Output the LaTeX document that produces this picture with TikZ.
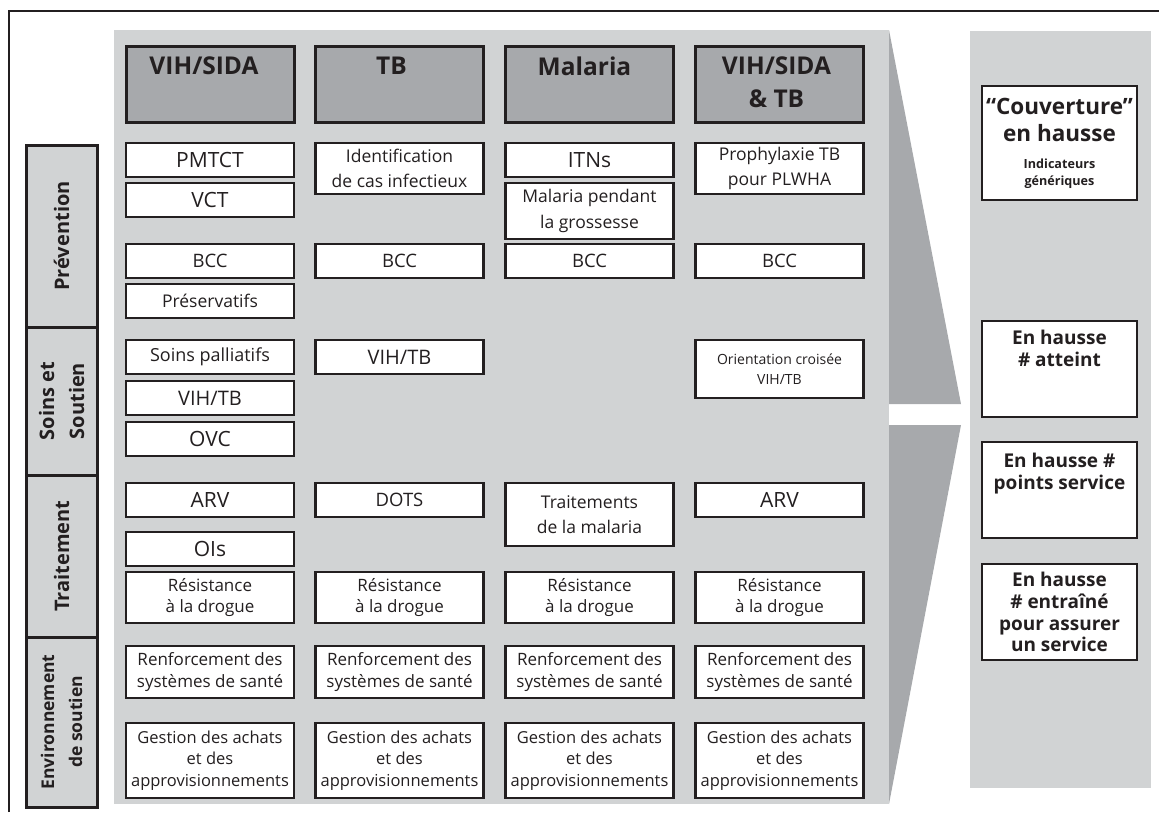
\documentclass[tikz,border=0pt]{standalone}
\usepackage{fontspec}
\setmainfont{Open Sans}
\usetikzlibrary{positioning}
\definecolor{panelgray}{RGB}{209,211,212}
\definecolor{hdrgray}{RGB}{167,169,172}
\definecolor{ink}{RGB}{35,31,32}
\begin{document}
\begin{tikzpicture}[x=1pt, y=-1pt, every node/.style={inner sep=1pt, text=ink},
  cellbox/.style={draw=ink, line width=2.7pt, fill=white, minimum width=168pt, align=center, font=\fontsize{18}{22}\selectfont},
  cellcaps/.style={cellbox, font=\fontsize{21}{24}\selectfont},
  celltwo/.style={cellbox, font=\fontsize{17.5}{25.5}\selectfont},
  cellmid/.style={cellbox, font=\fontsize{17}{21.5}\selectfont},
  cellsmall/.style={cellbox, font=\fontsize{18.5}{21}\selectfont},
  hdr/.style={draw=ink, line width=3pt, fill=hdrgray, minimum width=168pt, minimum height=76pt},
  hdrtxt/.style={inner sep=0pt, align=center, font=\bfseries\fontsize{24.5}{33}\selectfont},
  side/.style={draw=ink, line width=3pt, fill=panelgray, rotate=90, minimum height=71pt, align=center, font=\bfseries\fontsize{20}{30}\selectfont},
  res/.style={draw=ink, line width=2.7pt, fill=white, minimum width=155pt, minimum height=96pt},
  restxt/.style={inner sep=0pt, align=center, font=\bfseries\fontsize{19}{21.8}\selectfont}]
  \useasboundingbox (0,0) rectangle (1159,812);
  % frame and panels
  \draw[ink, line width=2.2pt] (9,812) -- (9,11) -- (1159,11);
  \fill[panelgray] (114,30) rectangle (889,804);
  \fill[hdrgray] (889,30) -- (961,404) -- (889,404) -- cycle;
  \fill[hdrgray] (889,425) -- (961,425) -- (889,804) -- cycle;
  \fill[panelgray] (970,31) rectangle (1151,788);
  % side labels
  \node[side, minimum width=182pt] (prev) at (61.5,236) {Prévention};
  \node[side, minimum width=148pt] (soins) at (61.5,401) {Soins et\\Soutien};
  \node[side, minimum width=162pt] (trait) at (61.5,556) {Traitement};
  \node[side, minimum width=170pt, font=\bfseries\fontsize{17.5}{28}\selectfont] (env) at (61.5,722) {Environnement\\de soutien};
  % headers
  \node[hdr] (hHIV) at (210,84) {};
  \node[hdrtxt, below=12pt of hHIV.north, xshift=-6pt] (tHIV) {VIH/SIDA};
  \node[hdr] (hTB) at (399.5,84) {};
  \node[hdrtxt, below=12pt of hTB.north, xshift=-8pt] (tTB) {TB};
  \node[hdr] (hMal) at (589.5,84) {};
  \node[hdrtxt, below=12pt of hMal.north, xshift=-5pt] (tMal) {Malaria};
  \node[hdr] (hBoth) at (779.5,84) {};
  \node[hdrtxt, below=12pt of hBoth.north, xshift=-3pt] (tBoth) {VIH/SIDA\\\& TB};
  % prevention
  \node[cellcaps, minimum height=34pt] (pmtct) at (210,160) {PMTCT};
  \node[cellcaps, minimum height=34pt] (vct) at (210,200) {VCT};
  \node[celltwo, minimum height=51pt] (ident) at (399.5,168.5) {Identification\\de cas infectieux};
  \node[cellcaps, minimum height=34pt] (itn) at (589.5,160) {ITNs};
  \node[celltwo, minimum height=56pt] (preg) at (589.5,211) {Malaria pendant\\la grossesse};
  \node[celltwo, minimum height=51pt] (proph) at (779.5,168.5) {Prophylaxie TB\\pour PLWHA};
  \node[cellsmall, minimum height=34pt] (bcc1) at (210,261) {BCC};
  \node[cellsmall, minimum height=34pt] (bcc2) at (399.5,261) {BCC};
  \node[cellsmall, minimum height=34pt] (bcc3) at (589.5,261) {BCC};
  \node[cellsmall, minimum height=34pt] (bcc4) at (779.5,261) {BCC};
  \node[cellbox, minimum height=34pt, font=\fontsize{17.5}{20}\selectfont] (cond) at (210,301) {Préservatifs};
  % care and support
  \node[cellbox, minimum height=34pt] (pall) at (210,357) {Soins palliatifs};
  \node[cellbox, minimum height=34pt, font=\fontsize{20}{24}\selectfont] (hivtb1) at (210,398) {VIH/TB};
  \node[cellcaps, minimum height=34pt] (ovc) at (210,439) {OVC};
  \node[cellbox, minimum height=34pt, font=\fontsize{20}{24}\selectfont] (hivtb2) at (399.5,357) {VIH/TB};
  \node[cellbox, minimum height=58pt, font=\fontsize{14}{20}\selectfont] (cross) at (779.5,369) {Orientation croisée\\VIH/TB};
  % treatment
  \node[cellcaps, minimum height=34pt] (arv1) at (210,500) {ARV};
  \node[cellcaps, minimum height=34pt] (ois) at (210,549) {OIs};
  \node[cellsmall, minimum height=34pt] (dots) at (399.5,500) {DOTS};
  \node[celltwo, minimum height=63pt] (mtreat) at (589.5,514.5) {Traitements\\de la malaria};
  \node[cellcaps, minimum height=34pt] (arv4) at (779.5,500) {ARV};
  \node[cellmid, minimum height=51pt] (res1) at (210,597.5) {Résistance\\à la drogue};
  \node[cellmid, minimum height=51pt] (res2) at (399.5,597.5) {Résistance\\à la drogue};
  \node[cellmid, minimum height=51pt] (res3) at (589.5,597.5) {Résistance\\à la drogue};
  \node[cellmid, minimum height=51pt] (res4) at (779.5,597.5) {Résistance\\à la drogue};
  % enabling environment
  \node[cellmid, minimum height=52pt] (hss1) at (210,672) {Renforcement des\\systèmes de santé};
  \node[cellmid, minimum height=52pt] (hss2) at (399.5,672) {Renforcement des\\systèmes de santé};
  \node[cellmid, minimum height=52pt] (hss3) at (589.5,672) {Renforcement des\\systèmes de santé};
  \node[cellmid, minimum height=52pt] (hss4) at (779.5,672) {Renforcement des\\systèmes de santé};
  \node[cellmid, minimum height=75pt, font=\fontsize{16.5}{21.5}\selectfont] (psm1) at (210,760.5) {Gestion des achats\\et des\\approvisionnements};
  \node[cellmid, minimum height=75pt, font=\fontsize{16.5}{21.5}\selectfont] (psm2) at (399.5,760.5) {Gestion des achats\\et des\\approvisionnements};
  \node[cellmid, minimum height=75pt, font=\fontsize{16.5}{21.5}\selectfont] (psm3) at (589.5,760.5) {Gestion des achats\\et des\\approvisionnements};
  \node[cellmid, minimum height=75pt, font=\fontsize{16.5}{21.5}\selectfont] (psm4) at (779.5,760.5) {Gestion des achats\\et des\\approvisionnements};
  % results column
  \node[res, minimum height=114pt, align=center, font=\bfseries\fontsize{22.5}{27}\selectfont] (cov) at (1059.5,143)
    {“Couverture”\\en hausse\\{\fontsize{12.6}{17}\selectfont Indicateurs}\\[-10pt]{\fontsize{12.6}{17}\selectfont génériques}};
  \node[res] (reach) at (1059.5,369) {};
  \node[restxt, below=10pt of reach.north] (reachtxt) {En hausse\\\# atteint};
  \node[res] (sites) at (1059.5,490) {};
  \node[restxt, below=12pt of sites.north] (sitestxt) {En hausse \#\\points service};
  \node[res, align=center, font=\bfseries\fontsize{19}{21.8}\selectfont] (train) at (1059.5,612)
    {En hausse\\\# entraîné\\pour assurer\\un service};
\end{tikzpicture}
\end{document}
